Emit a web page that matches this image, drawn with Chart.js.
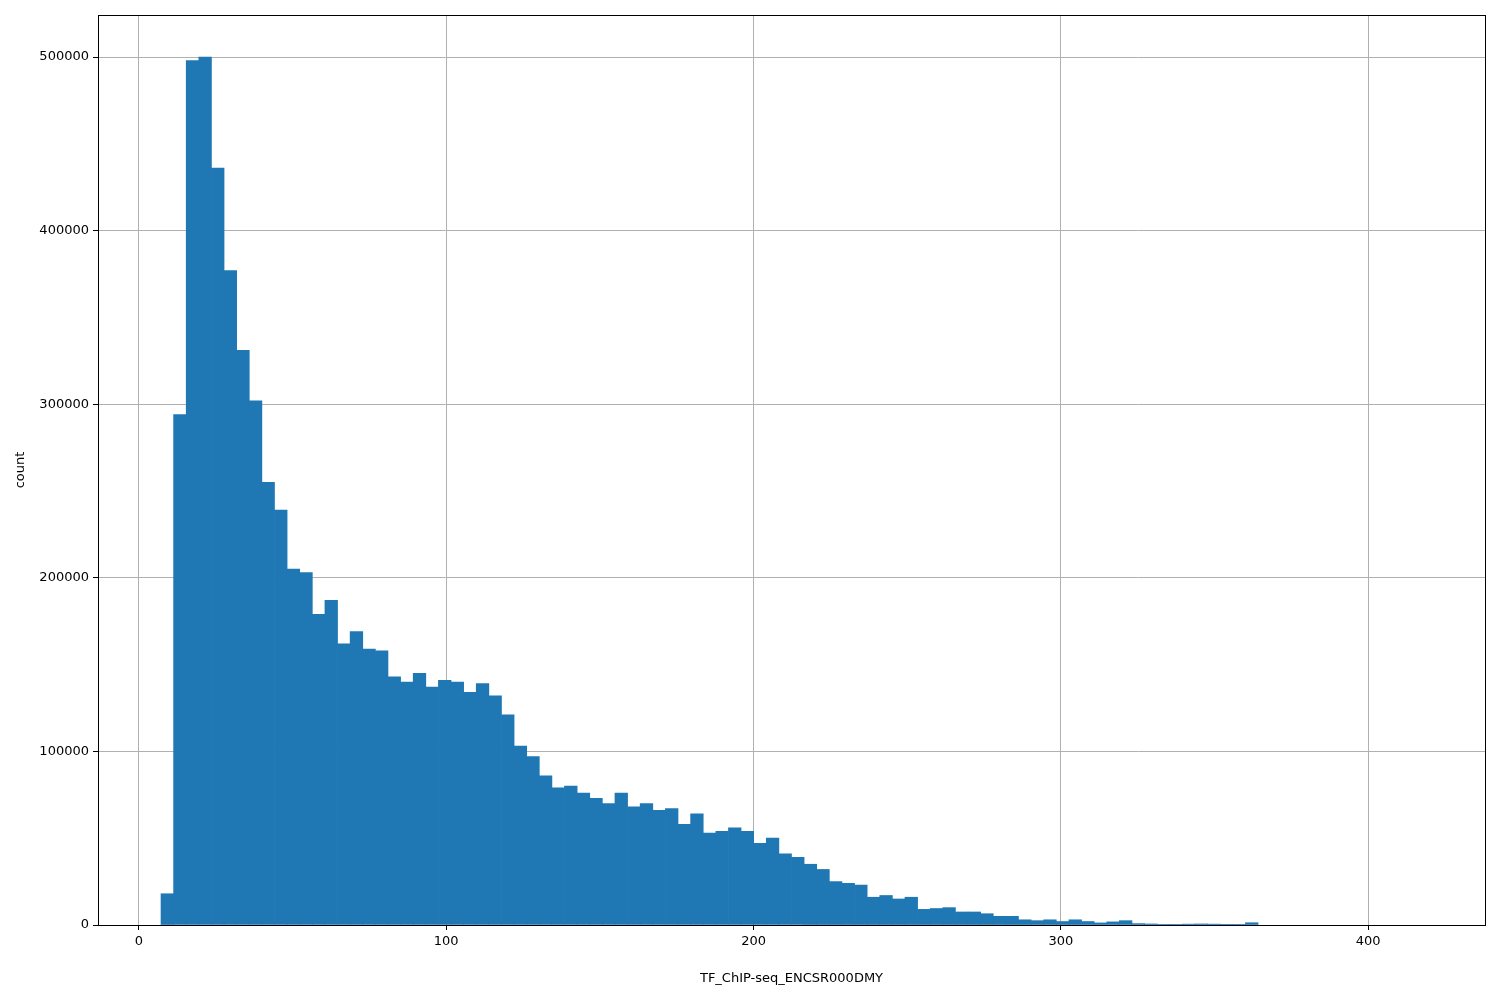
<!DOCTYPE html>
<html><head><script src="https://cdn.jsdelivr.net/npm/chart.js"></script>
<style>body{margin:0;background:#fff}#w{width:1500px;height:1000px}</style></head>
<body><div id="w"><canvas id="c"></canvas></div>
<script>
const binStart = 7.2;
const binWidth = 4.103;
const counts = [18000,294000,498000,500000,436000,377000,331000,302000,255000,239000,
205000,203000,179000,187000,162000,169000,159000,158000,143000,140000,
145000,137000,141000,140000,134000,139000,132000,121000,103000,97000,
86000,79000,80000,76000,73000,70000,76000,68000,70000,66000,
67000,58000,64000,53000,54000,56000,54000,47000,50000,41000,
39000,35000,32000,25000,24000,23000,16000,17000,15000,16000,
9000,9500,10000,7500,7500,6500,5000,5000,3000,2500,
3000,2000,3000,2000,1200,1800,2500,800,600,200,
200,500,600,500,400,200,1300,0,0,0,
0,0,0,0,0,0,0,0,0,0];
const xTicks = [0,100,200,300,400];
const pts = counts.map((v,i)=>({x: binStart + binWidth*(i+0.5), y: v === 0 ? null : v}));
const frame = {id:'frame', afterDraw(ch){const a=ch.chartArea,c=ch.ctx;c.save();c.strokeStyle='#000';c.lineWidth=1;c.strokeRect(a.left+0.5,a.top+0.5,a.right-a.left,a.bottom-a.top);c.restore();}};
const font={family:'DejaVu Sans',size:13};
new Chart(document.getElementById('c'),{
 type:'bar',
 data:{datasets:[{data:pts,backgroundColor:'#1f77b4',borderWidth:0,barPercentage:1,categoryPercentage:1}]},
 options:{responsive:true,maintainAspectRatio:false,animation:false,
  layout:{padding:{top:15,right:15,left:9,bottom:10}},
  plugins:{legend:{display:false},tooltip:{enabled:false}},
  scales:{
   x:{type:'linear',offset:false,bounds:'data',min:-13.3,max:438,z:1,
     afterDataLimits(s){s.min=-13.3;s.max=438;},
     afterBuildTicks(s){s.ticks=xTicks.map(v=>({value:v}));s.min=-13.3;s.max=438;},
     afterFit(s){s.height=65;},
     grid:{color:'#b0b0b0',tickColor:'#000',tickLength:5,offset:false},
     border:{color:'#000'},
     ticks:{color:'#000',font,maxRotation:0,padding:4},
     title:{display:true,text:'TF_ChIP-seq_ENCSR000DMY',color:'#000',font,padding:{top:0}}},
   y:{min:0,max:524200,z:1,
     afterBuildTicks(s){s.ticks=[0,100000,200000,300000,400000,500000].map(v=>({value:v}));},
     afterFit(s){s.width=89;},
     grid:{color:'#b0b0b0',tickColor:'#000',tickLength:5},
     border:{color:'#000'},
     ticks:{color:'#000',font,padding:4,callback:v=>String(v)},
     title:{display:true,text:'count',color:'#000',font,padding:{bottom:10}}}
  }},
 plugins:[frame]
});
</script></body></html>
